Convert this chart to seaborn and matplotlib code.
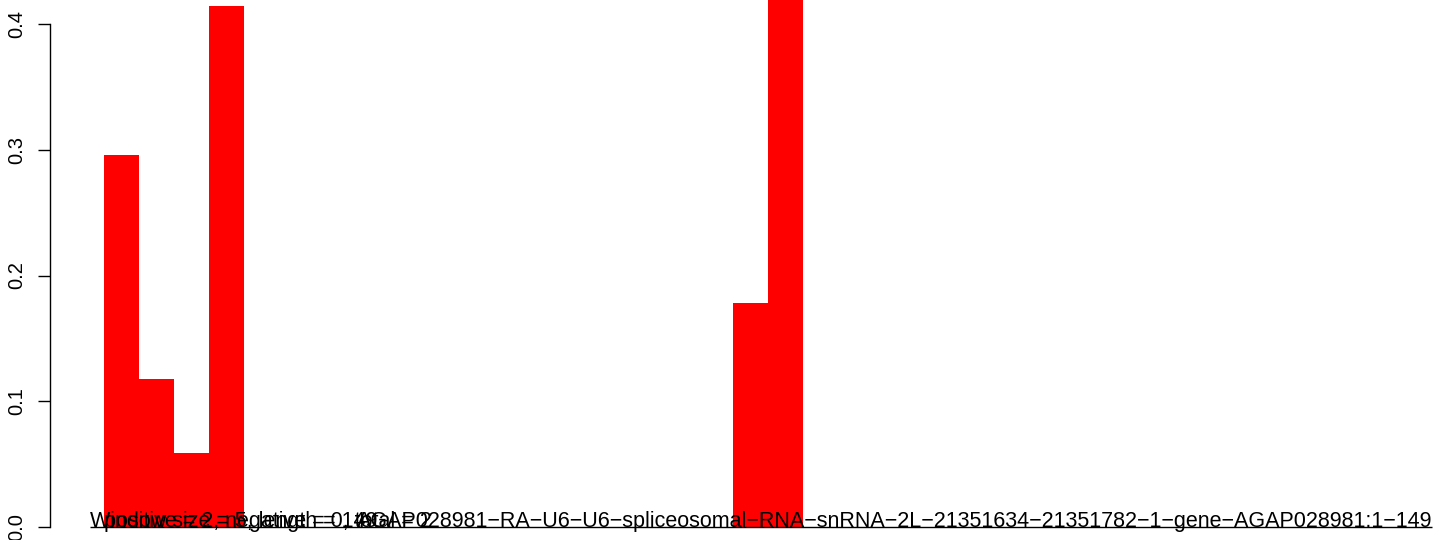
import matplotlib
matplotlib.use("Agg")
import matplotlib.pyplot as plt
import seaborn as sns
import pandas as pd

# window positions (38 windows) and the fraction in each
positions = list(range(1, 39))
fractions = [0.296, 0.118, 0.059, 0.414, 0, 0, 0, 0, 0, 0,
             0, 0, 0, 0, 0, 0, 0, 0, 0.178, 0.45,
             0, 0, 0, 0, 0, 0, 0, 0, 0, 0,
             0, 0, 0, 0, 0, 0, 0, 0]
y_ticks = [0.0, 0.1, 0.2, 0.3, 0.4]
y_labels = ["0.0", "0.1", "0.2", "0.3", "0.4"]

label_window = "Window size = 5, length = 149"
label_counts = "positive = 2, negative = 0, total = 2"
label_gene = ("AGAP028981\u2212RA\u2212U6\u2212U6\u2212spliceosomal\u2212RNA\u2212snRNA"
              "\u22122L\u221221351634\u221221351782\u22121\u2212gene\u2212AGAP028981:1\u2212149")

df = pd.DataFrame({"pos": positions, "frac": fractions})

sns.set_style("white")
plt.rcParams["font.family"] = ["Liberation Sans", "DejaVu Sans"]
plt.rcParams["text.color"] = "black"
plt.rcParams["axes.edgecolor"] = "black"
plt.rcParams["ytick.color"] = "black"
plt.rcParams["ytick.labelcolor"] = "black"

fig = plt.figure(figsize=(14.44, 5.40), dpi=100)
ax = fig.add_axes([50 / 1444, 13 / 540, 1 - 50 / 1444, 527 / 540])

sns.barplot(data=df, x="pos", y="frac", color="#FF0000", saturation=1,
            width=1.0, linewidth=0, ax=ax)

ax.set_xlim(-0.5 - 54 / 34.95, -0.5 - 54 / 34.95 + 1394 / 34.95)
ax.set_ylim(0, 527 / 1257.5)

for side in ["top", "right", "bottom"]:
    ax.spines[side].set_visible(False)
ax.spines["left"].set_bounds(0, 0.4)
ax.spines["left"].set_linewidth(1.0)
ax.set_xticks([])
ax.set_yticks(y_ticks)
ax.set_yticklabels(y_labels, rotation=90, va="center", fontsize=14.5)
ax.tick_params(axis="y", direction="out", length=9, width=1.0, pad=8, left=True)
ax.set_xlabel("")
ax.set_ylabel("")

ax.hlines(0, -0.9, 37.5, color="black", linewidth=1.0, clip_on=False)

ax.text(-0.9, 0.0, label_window, ha="left", va="baseline", fontsize=15.5)
ax.text(-0.5, 0.0, label_counts, ha="left", va="baseline", fontsize=15.5)
ax.text(37.5, 0.0, label_gene, ha="right", va="baseline", fontsize=15.5)

fig.savefig("out.png", dpi=100)
